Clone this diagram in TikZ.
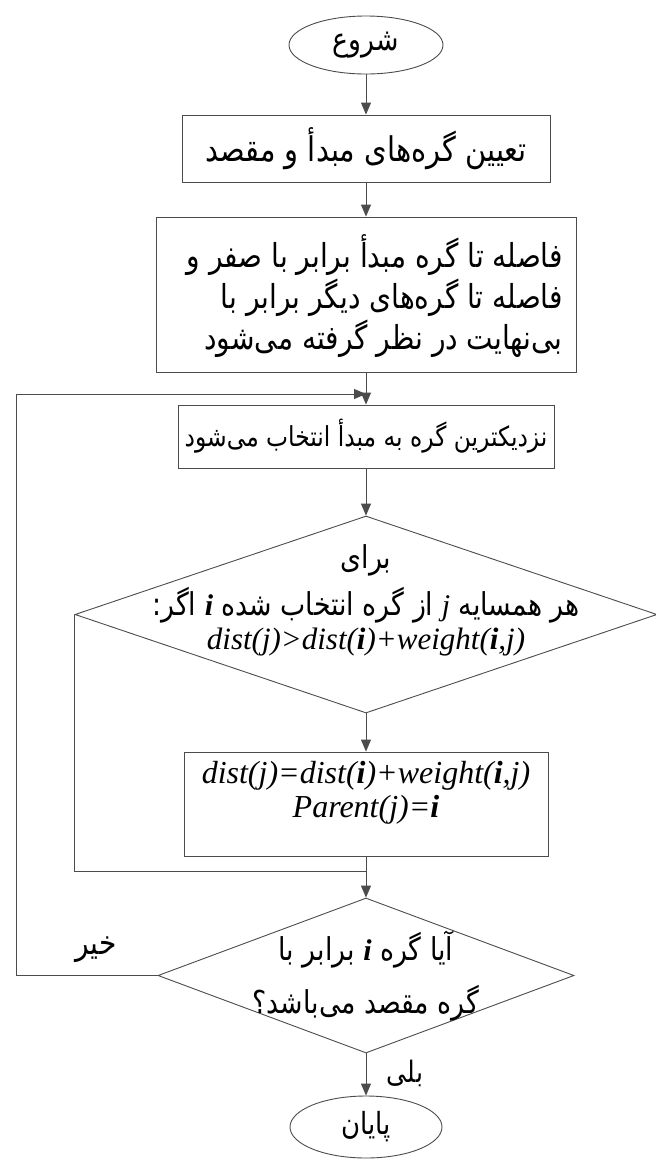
\documentclass[tikz,border=0pt]{standalone}
\usepackage{fontspec}
\usetikzlibrary{shapes.geometric,arrows.meta}
\newfontfamily\fa[Script=Arabic,FakeStretch=0.85]{DejaVu Sans}
\newfontfamily\lat{Liberation Serif}
\TeXXeTstate=1
\newcommand{\rtlline}[1]{\beginR #1\endR}
\newcommand{\vi}{\beginL{\lat\bfseries\itshape\fontsize{30}{30}\selectfont i}\endL}
\newcommand{\vj}{\beginL{\lat\itshape\fontsize{30}{30}\selectfont j}\endL}
\newcommand{\bi}{{\bfseries i}}
\newcommand{\fasize}[2]{\fa\fontsize{#1}{#2}\selectfont}
\tikzset{
  ln/.style={draw=black!70, line width=0.9pt},
  arr/.style={ln, -{Triangle[length=12pt,width=10pt]}},
  fatext/.style={font=\fasize{31.5}{41}, align=center},
  latext/.style={font=\lat\itshape\fontsize{31}{34}\selectfont, align=center},
  stepbox/.style={ln, rectangle, inner sep=0pt, fatext},
  term/.style={ln, ellipse, inner sep=0pt, fatext},
  decision/.style={ln, diamond, inner sep=0pt},
}
\begin{document}
\begin{tikzpicture}[x=1pt,y=-1pt]
\useasboundingbox (0,0) rectangle (656,1160);
\fill[white] (0,0) rectangle (656,1160);

\node[term, minimum width=154pt, minimum height=58pt] (start) at (366,45) {\rtlline{شروع}};
\node[stepbox, minimum width=368pt, minimum height=67pt, font=\fasize{34}{41}] (b1) at (366,148.5) {\rtlline{تعیین گره‌های مبدأ و مقصد}};
\node[ln, rectangle, inner sep=0pt, minimum width=420pt, minimum height=155pt] (b2) at (366,294.5) {};
\node[font=\fasize{33}{41}, align=right, anchor=east, inner sep=0pt] (b2t) at (563,296) {\rtlline{فاصله تا گره مبدأ برابر با صفر و}\\\rtlline{فاصله تا گره‌های دیگر برابر با}\\\rtlline{بی‌نهایت در نظر گرفته می‌شود}};
\node[stepbox, minimum width=376pt, minimum height=63pt, font=\fasize{27.5}{41}] (b3) at (366,436.5) {\rtlline{نزدیکترین گره به مبدأ انتخاب می‌شود}};
\node[decision, minimum width=582pt, minimum height=197pt] (d1) at (366,614.5) {};
\node[fatext] (d1a) at (366,560) {\rtlline{برای}};
\node[fatext] (d1b) at (366,605) {\rtlline{هر همسایه \vj{} از گره انتخاب شده \vi{} اگر:}};
\node[latext] (d1c) at (366,642) {dist(j)>dist(\bi)+weight(\bi,j)};
\node[ln, rectangle, inner sep=0pt, minimum width=364pt, minimum height=104pt] (b4) at (366,804) {};
\node[latext, font=\lat\itshape\fontsize{32}{34}\selectfont] (b4t) at (366,793) {dist(j)=dist(\bi)+weight(\bi,j)\\Parent(j)=\bi};
\node[decision, minimum width=416pt, minimum height=155pt] (d2) at (366,975.5) {};
\node[fatext, font=\fasize{31.5}{53}] (d2t) at (366,976) {\rtlline{آیا گره \vi{} برابر با}\\\rtlline{گره مقصد می‌باشد؟}};
\node[term, minimum width=152pt, minimum height=62pt, font=\fasize{30.5}{41}] (end) at (366,1127) {\rtlline{پایان}};

\node[fatext, font=\fasize{33}{41}] (no) at (96,950) {\rtlline{خیر}};
\node[fatext, font=\fasize{29.5}{41}] (yes) at (405,1073) {\rtlline{بلی}};

\coordinate (m) at (366,394);
\coordinate (jn) at (366,871);

\draw[arr] (start) -- (b1);
\draw[arr] (b1) -- (b2);
\draw[arr] (b2) -- (b3);
\draw[arr] (b3) -- (d1);
\draw[arr] (d1) -- (b4);
\draw[arr] (b4) -- (d2);
\draw[ln] (d1.west) |- (jn);
\draw[arr] (d2.west) -- ++(-141,0) |- (m);
\draw[arr] (d2) -- (end);
\end{tikzpicture}
\end{document}
